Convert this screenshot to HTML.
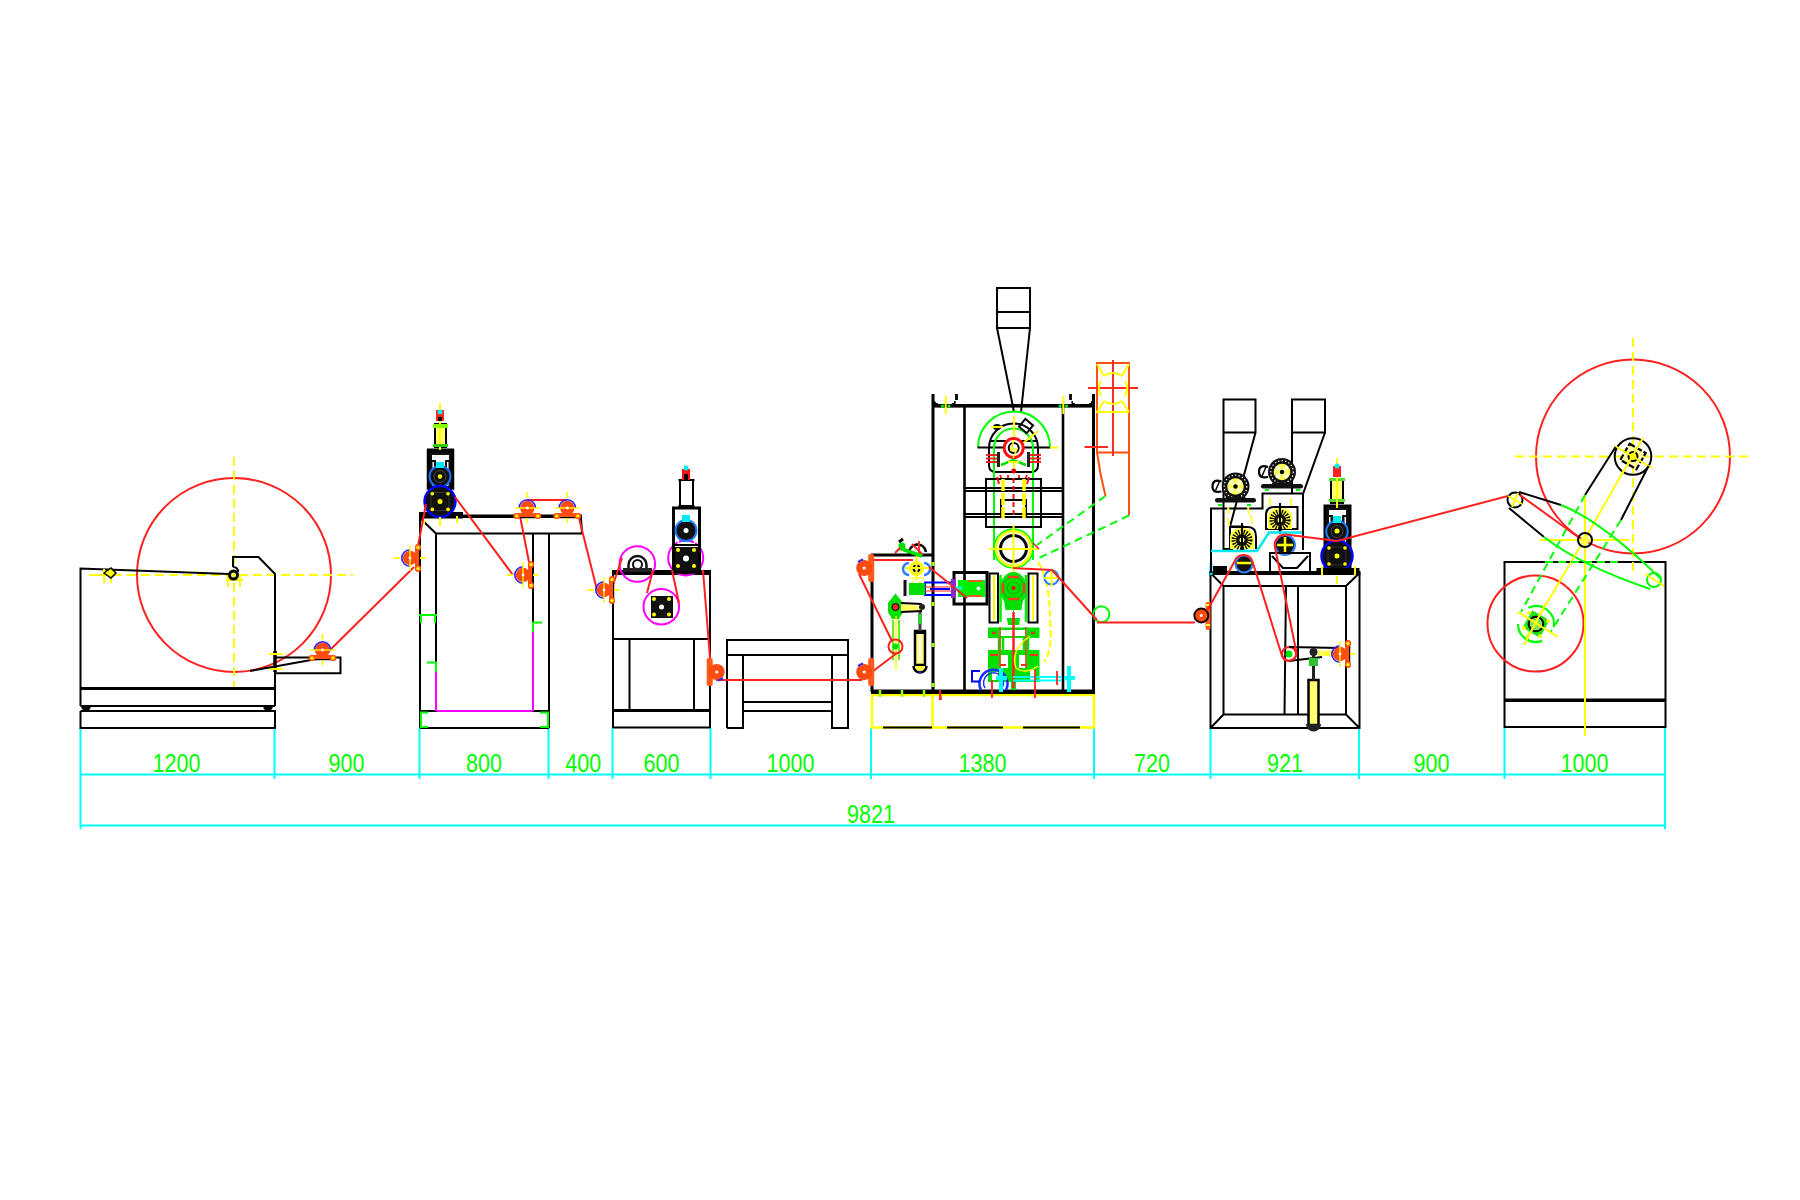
<!DOCTYPE html>
<html><head><meta charset="utf-8">
<style>
html,body{margin:0;padding:0;background:#fff;width:1800px;height:1200px;overflow:hidden}
svg{display:block}
.k{stroke:#000;fill:none;stroke-width:2}
.kt{stroke:#000;fill:none;stroke-width:3}
.r{stroke:#ff2020;fill:none;stroke-width:2}
.y{stroke:#ffff00;fill:none;stroke-width:2}
.yd{stroke:#ffff00;fill:none;stroke-width:2;stroke-dasharray:9 5}
.g{stroke:#00ff00;fill:none;stroke-width:2}
.gd{stroke:#00ff00;fill:none;stroke-width:2;stroke-dasharray:8 5}
.c{stroke:#00ffff;fill:none;stroke-width:2}
.b{stroke:#0000ff;fill:none;stroke-width:2}
.m{stroke:#ff00ff;fill:none;stroke-width:2}
.o{stroke:#ff5010;fill:none;stroke-width:2}
text{font-family:"Liberation Sans",sans-serif;fill:#00ff00;font-size:25.5px}
</style></head>
<body>
<svg width="1800" height="1200" viewBox="0 0 1800 1200">
<rect width="1800" height="1200" fill="#fff"/>
<defs>
<g id="rl">
<path d="M9 -8V8" stroke="#000" stroke-width="2.5"/>
<rect x="5" y="-14" width="6" height="7" rx="3" fill="#ff5010"/>
<rect x="5" y="7" width="6" height="7" rx="3" fill="#ff5010"/>
<rect x="5" y="-11" width="4" height="22" fill="#ff5010"/>
<circle cx="8" cy="-10.5" r="1.7" fill="#ff0"/><circle cx="8" cy="10.5" r="1.7" fill="#ff0"/>
<circle r="7.2" fill="#ff4a10"/>
<path d="M0 -8.2A8.2 8.2 0 0 0 0 8.2" stroke="#2a20ff" stroke-width="1.6" fill="none"/>
<path d="M0 -13V13" stroke="#ffff00" stroke-width="1.3"/>
<path d="M-16 0H-10 M10 0H15" stroke="#ffff00" stroke-width="1.8"/>
<circle r="1.4" fill="#fff"/>
</g>
<g id="rl2">
<rect x="4" y="-14" width="6" height="28" rx="2" fill="#ff5a18"/>
<circle r="8" fill="#ff4a10"/>
<path d="M-1 -8.5A8.5 8.5 0 0 0 -6 -6" stroke="#2030ff" stroke-width="2" fill="none"/>
<circle r="1.6" fill="#fff"/>
</g>
</defs>


<!-- ===== DIMENSIONS ===== -->
<g id="dims">
<path class="c" d="M80.5 728V829 M274.5 728V779 M419.5 728V779 M548.5 728V779 M612.5 728V779 M710.5 728V779 M871 728V779 M1094 728V779 M1210.5 728V779 M1359 728V779 M1504.5 728V779 M1665 728V829"/>
<path class="c" d="M80 774.5H1665 M80 825.5H1665"/>
<text transform="translate(176.5,772) scale(0.845,1)" text-anchor="middle">1200</text>
<text transform="translate(346.5,772) scale(0.845,1)" text-anchor="middle">900</text>
<text transform="translate(484,772) scale(0.845,1)" text-anchor="middle">800</text>
<text transform="translate(583.3,772) scale(0.845,1)" text-anchor="middle">400</text>
<text transform="translate(661.5,772) scale(0.845,1)" text-anchor="middle">600</text>
<text transform="translate(790.5,772) scale(0.845,1)" text-anchor="middle">1000</text>
<text transform="translate(982.5,772) scale(0.845,1)" text-anchor="middle">1380</text>
<text transform="translate(1152,772) scale(0.845,1)" text-anchor="middle">720</text>
<text transform="translate(1285,772) scale(0.845,1)" text-anchor="middle">921</text>
<text transform="translate(1431.5,772) scale(0.845,1)" text-anchor="middle">900</text>
<text transform="translate(1584.5,772) scale(0.845,1)" text-anchor="middle">1000</text>
<text transform="translate(871,823) scale(0.845,1)" text-anchor="middle">9821</text>
</g>

<!-- ===== SECTION 1: UNWINDER ===== -->
<g id="s1">
<circle class="r" cx="234" cy="575" r="97"/>
<path class="yd" d="M234 457V693 M99 575H353"/>
<path class="k" d="M80.5 706V568.5L229 574 M233 567V557H258.5L275 574V706 M80.5 706H275 M80.5 711V728H275V711H80.5 M275 657.5H340.5V673.3H275"/>
<path d="M275 651V672" stroke="#000" stroke-width="3.5"/>
<path class="y" d="M269 654H283 M269 669H283 M89 575H119 M104 569V583 M111 569V583 M226 580H243 M228 575V587 M240 575V587" stroke-width="1.6"/>
<path d="M104 573L111 568L116 573L111 578Z" stroke="#000" stroke-width="1.5" fill="#ff0"/>
<path d="M82 707A4 3 0 0 0 90 707 M264 707A4 3 0 0 0 272 707" stroke="#000" stroke-width="1.5" fill="#000"/>
<path class="kt" d="M80.5 688.5H275"/>
<path class="k" d="M250 671L325 657.5"/>
<circle cx="233.5" cy="575" r="4" stroke="#000" stroke-width="3" fill="none"/>
<path d="M233 567A4.5 4.5 0 0 1 238 572" stroke="#000" stroke-width="2" fill="none"/>
<circle cx="322.5" cy="650" r="7.5" fill="#ff4a10"/>
</g>

<!-- ===== SECTION 2 ===== -->
<g id="s2">
<path class="k" d="M420 514V728 M420.7 518.7L436 533.5H582 M581 518L582 534 M436 533.5V672 M533 533.5V622 M549 533.5V728 M420 711H549 M420 728H549"/>
<rect x="419" y="514.5" width="163" height="3.5" fill="#000"/>
<rect x="419" y="512" width="44" height="6.5" fill="#000"/>
<path class="m" d="M436 672V711 M533 632V711 M437 711H532"/>
<path class="g" d="M419 615H437 M421 615V623 M435 615V623 M427 662.5H436V672 M533 622.5H542 M533 622V632 M428 712.5H421V727H428 M540 712.5H548V727H540"/>
<!-- motor tower -->
<rect x="428.5" y="451" width="24" height="37" stroke="#000" stroke-width="3.5" fill="#111"/>
<rect x="427" y="448.5" width="27" height="4" fill="#000"/>
<path d="M432 455H449V460H445V468H436V460H432Z M432.5 462H434V486H432.5Z M447 462H448.5V486H447Z" fill="#fff"/>
<circle cx="440" cy="476.5" r="10.5" stroke="#1a70ff" stroke-width="2" fill="#111"/>
<circle cx="440" cy="476.5" r="6" stroke="#555" stroke-width="0.8" fill="none"/>
<circle cx="440" cy="476.5" r="2.2" fill="#ff0"/>
<rect x="436" y="462" width="8" height="6" fill="#00e8f0"/>
<circle cx="440" cy="501.5" r="15.5" stroke="#0000ff" stroke-width="2.5" fill="#111"/>
<rect x="431" y="492.5" width="18" height="18" fill="none" stroke="#333" stroke-width="1"/>
<circle cx="432.3" cy="493.7" r="1.8" fill="#ff0"/><circle cx="448" cy="493.7" r="1.8" fill="#ff0"/><circle cx="432.3" cy="509.4" r="1.8" fill="#ff0"/><circle cx="448" cy="509.4" r="1.8" fill="#ff0"/>
<circle cx="440" cy="501.5" r="2.5" fill="#ff0"/>
<rect x="435" y="424" width="11" height="23" fill="#ff6" stroke="#000" stroke-width="2"/>
<path class="y" d="M440 403V450"/>
<rect x="433" y="424" width="15" height="4" fill="#8f0"/>
<rect x="433" y="444" width="15" height="3" fill="#3c0"/>
<rect x="436" y="410" width="8" height="11" fill="#f22"/>
<rect x="438" y="417" width="4" height="4" fill="#000"/>
<circle cx="440" cy="412" r="2.5" fill="#0ee"/>
<path class="y" d="M424 520V524 M457 516V523 M440 517V526"/>
</g>

<!-- ===== SECTION 3 ===== -->
<g id="s3">
<path class="k" d="M613 573V728 M710 573V728 M613 639H710 M629.5 639V710 M694 639V710 M613 727.5H710"/>
<rect x="612" y="570" width="99" height="5" fill="#000"/>
<path class="kt" d="M613 710.5H710"/>
<circle class="m" cx="637.3" cy="564" r="17.8"/>
<circle class="m" cx="685.7" cy="558" r="17.5"/>
<circle class="m" cx="661.3" cy="606.7" r="17.8"/>
<path d="M628.5 570V565a9 9 0 0 1 18 0V570z" fill="#fff" stroke="#111" stroke-width="2.5"/>
<circle cx="637.5" cy="564.5" r="4.5" fill="#fff" stroke="#111" stroke-width="2"/>
<rect x="623" y="568" width="29" height="4" fill="#222"/>
<rect x="651" y="596" width="22" height="22" fill="#111"/>
<circle cx="661.5" cy="607" r="2.5" fill="#fff"/>
<circle cx="654" cy="599" r="2" fill="#ff0"/><circle cx="669" cy="599" r="2" fill="#ff0"/><circle cx="654" cy="614.5" r="2" fill="#ff0"/><circle cx="669" cy="614.5" r="2" fill="#ff0"/>
<!-- tower -->
<rect x="673.5" y="508" width="26" height="64" class="kt" fill="#111"/>
<path d="M677 512H696V517H692V524H681V517H677Z M677.5 519H679V543H677.5Z M694 519H695.5V543H694Z M678 543H695V546H678Z" fill="#fff"/>
<path class="k" d="M673.5 545H699.5"/>
<circle cx="686" cy="530.5" r="10.5" stroke="#1a7aff" stroke-width="2" fill="#111"/>
<circle cx="686" cy="530.5" r="2.5" fill="#fff"/>
<rect x="682" y="515" width="8" height="7" fill="#00e8f0"/>
<rect x="675" y="547" width="23" height="24" fill="#111"/>
<circle cx="686" cy="558.5" r="3" fill="#fff"/>
<circle cx="678" cy="550" r="2" fill="#ff0"/><circle cx="694" cy="550" r="2" fill="#ff0"/><circle cx="678" cy="566" r="2" fill="#ff0"/><circle cx="694" cy="566" r="2" fill="#ff0"/>
<rect x="680" y="480" width="13" height="27" fill="#fff" stroke="#000" stroke-width="2"/>
<path class="k" d="M678.5 480H694.5 M678.5 506H694.5"/>
<rect x="682" y="469" width="8" height="11" fill="#f11"/>
<rect x="684" y="474" width="4" height="6" fill="#000"/>
<circle cx="686" cy="468" r="2.5" fill="#0ee"/>
</g>

<!-- ===== TABLE ===== -->
<g id="table">
<path class="k" d="M727 728V640H848V728H832V655H743V728H727 M727 655H848 M743 702H832 M743 711H832"/>
</g>

<!-- ===== SECTION 4: CENTRAL ===== -->
<g id="s4">
<!-- base -->
<rect x="872" y="695" width="222" height="32.5" fill="none" stroke="#ffff00" stroke-width="2.5"/>
<path d="M932.5 695V727.5" stroke="#ffff00" stroke-width="2.5"/>
<path class="k" d="M883 727.5H932 M947 727.5H1003 M1023 727.5H1080"/>
<rect x="871" y="689.5" width="224" height="4.5" fill="#000"/>
<!-- frame -->
<path d="M933 394V692 M1093.5 394V692" stroke="#000" stroke-width="3"/>
<path d="M964.5 406V692 M1063 406V692" stroke="#000" stroke-width="2.6"/>
<rect x="932" y="404" width="163" height="3.6" fill="#000"/>
<path d="M956.5 394V400" stroke="#000" stroke-width="2.8"/>
<path d="M1070.5 394V400" stroke="#000" stroke-width="2.8"/>
<path d="M934.5 401Q935 404 938 404H934.5Z M955 401Q955 404 952 404H955Z M1072 401Q1072 404 1075 404H1072Z M1092 401Q1092 404 1089 404H1092Z" stroke="#000" stroke-width="1" fill="#000"/>
<circle cx="942.5" cy="406" r="1.5" fill="#0f0"/><circle cx="949" cy="406" r="1.5" fill="#0f0"/><circle cx="1060" cy="406" r="1.5" fill="#0f0"/><circle cx="1066.5" cy="406" r="1.5" fill="#0f0"/>
<path class="y" d="M945.7 396V414 M1063.3 396V414"/>
<!-- hopper -->
<path class="k" d="M997 288H1030V328H997Z M997 312H1030 M997 328L1014 412 M1030 328L1021 412"/>
<!-- green hood -->
<path class="g" d="M978 447.5A36 36 0 0 1 1050 447.5"/>
<path class="k" d="M977.5 447.5H1050.5"/>
<path class="k" d="M989 448A24.5 24.5 0 0 1 1038 448V465Q1038 472 1031 472H996Q989 472 989 465Z M990 441H1038" stroke-width="2.5"/>
<path class="g" d="M994 560V448A19.5 19.5 0 0 1 1033 448V560"/>
<rect x="1021" y="421" width="10" height="10" transform="rotate(40 1026 426)" class="k"/>
<ellipse cx="997" cy="427" rx="4" ry="3" fill="#000"/>
<path class="y" d="M991 427H1003 M1014 416V470 M1038 431L1022 444 M1050 447.5H1058"/>
<circle cx="1013.7" cy="448" r="9.5" stroke="#f11" stroke-width="3" fill="#fff"/>
<circle cx="1013.7" cy="448" r="5" stroke="#000" stroke-width="2" fill="#fff"/>
<path d="M1014 440L1011 450L1017 449L1013 458" stroke="#ff0" stroke-width="1.5" fill="none"/>
<path d="M986 455H999 M986 458.5H999 M986 462H999 M1028.5 455H1041 M1028.5 458.5H1041 M1028.5 462H1041" stroke="#f22" stroke-width="1.8"/>
<path d="M998.5 452V467 M1028.5 452V467" stroke="#222" stroke-width="3"/>
<path d="M1001 465L1013 460L1026 465" stroke="#00e000" stroke-width="2.5" fill="none"/>
<path d="M1008 462H1019" stroke="#ff0" stroke-width="2"/>
<circle cx="1013.7" cy="471" r="2.5" fill="#d00"/>
<path d="M1000 475L1003 482 M1027 475L1024 482 M1008 475V480 M1019 475V480" stroke="#f11" stroke-width="1.8"/>
<!-- middle box -->
<path class="k" d="M986 479H1041V527H986Z M965 488H1063 M965 491H1063 M965 514H1063 M965 517H1063"/>
<path class="k" d="M1001 517V500H1026V517"/>
<path d="M1003 479V518 M1024 479V518" stroke="#ffff00" stroke-width="3.5" stroke-dasharray="12 2"/>
<path d="M1013.5 478V518" stroke="#e11" stroke-width="2" stroke-dasharray="5 3"/>
<path d="M997 477L999 484 M1029 477L1027 484" stroke="#f11" stroke-width="2"/>
<!-- roller -->
<circle cx="1013.5" cy="548.5" r="17.5" stroke="#ffff00" stroke-width="2.5" fill="none"/>
<circle cx="1013.5" cy="548.5" r="19.5" stroke="#00ff00" stroke-width="1.5" fill="none"/>
<circle cx="1013.5" cy="548.5" r="13" class="kt"/>
<path class="y" d="M1013.5 525V572 M989 549H1038"/>
<!-- orange bracket right -->
<path class="o" d="M1097 363H1129V452.5H1097Z"/>
<path d="M1113 360V456 M1088 388H1138 M1084.5 447H1108" stroke="#ff2a20" stroke-width="2"/>
<path d="M1097 364L1104 376 M1129 364L1122 376 M1097 412L1104 401 M1129 412L1122 401 M1096 412H1129 M1104 376A15 15 0 0 1 1122 376 M1104 401A15 15 0 0 0 1122 401 M1101 381A15 15 0 0 0 1101 396 M1125 381A15 15 0 0 1 1125 396" stroke="#ffff00" stroke-width="2" fill="none"/>
<path class="o" d="M1097 452Q1100 475 1105.5 496 M1129 452V515.5"/>
<path class="gd" d="M1105.5 496L1037 545 M1129 515.5L1039 558"/>
<path d="M1033 543L1039 549" stroke="#f22" stroke-width="1.5"/>
<!-- lower drive -->
<rect x="954" y="572.5" width="33" height="31.5" class="kt"/>
<path d="M958 580H985V597H958Z" fill="#00ee00"/>
<path d="M968 581H982 M968 596H982" stroke="#e06020" stroke-width="2"/>
<circle cx="978.5" cy="588.5" r="2" fill="#fff"/>
<path class="b" d="M925 582.5H955V595H925Z M930 589H950" stroke-width="2.5"/>
<path d="M925 587H955 M925 591H955" stroke="#f22" stroke-width="1.2"/>
<rect x="951" y="579" width="5" height="19" fill="#8030c0"/>
<path d="M955 588H962" stroke="#00ffff" stroke-width="3"/>
<rect x="989.5" y="573.5" width="8.5" height="49" class="k"/>
<rect x="1028.5" y="573.5" width="9" height="49" class="k"/>
<path class="y" d="M994 575V620 M1033 575V620"/>
<path d="M1000.5 575V622 M1026 575V622" stroke="#00ee00" stroke-width="2.5"/>
<ellipse cx="1013.5" cy="589" rx="13.5" ry="17" fill="#00e000"/>
<path d="M1004 600L1008 625H1019L1023 600Z" fill="#00e000"/>
<circle cx="1013.5" cy="588" r="11" stroke="#00aa00" stroke-width="1" fill="none"/>
<circle cx="1013.5" cy="588" r="6" stroke="#00aa00" stroke-width="1" fill="none"/>
<path d="M1003 583V593 M1024 583V593 M1008 577H1019 M1008 599H1019" stroke="#f04020" stroke-width="2.5"/>
<circle cx="1013.5" cy="588" r="2" fill="#f00"/>
<path d="M1006 610H1013V618H1006Z M1014 610H1021V618H1014Z" fill="#fff"/>
<path d="M988 627.5H1039.5V638H988Z" fill="#00e000"/>
<path d="M999 630H1027V636H999Z" fill="#fff"/>
<path d="M999 638V650 M1003 638V650 M1024 638V650 M1028 638V650" stroke="#00e000" stroke-width="2.5"/>
<path d="M988 650H1039.5V682H1016V690H1011V682H988Z" fill="#00e000"/>
<path d="M1000 655H1008V668H1000Z M1019 655H1027V668H1019Z M992 672H998V680H992Z M1030 670H1036V680H1030Z" fill="#fff"/>
<path d="M992 633H996 M1031 633H1035" stroke="#d04020" stroke-width="2.5"/>
<path d="M1000 627V668 M1026 627V668" stroke="#c06020" stroke-width="1.8"/>
<path d="M990 655H998 M1030 655H1038 M1000 665H1006 M1021 665H1027" stroke="#f03020" stroke-width="2"/>
<path d="M1013.5 612V688" stroke="#f22" stroke-width="2.5"/>
<path d="M1038 562Q1050 580 1050 620Q1053 650 1044 662" stroke="#ffff00" stroke-width="2.2" stroke-dasharray="7 3" fill="none"/>
<path d="M1030 636Q1010 650 1016 668Q1025 675 1038 666" stroke="#ffff00" stroke-width="1.5" fill="none"/>
<path d="M981 690A14 14 0 1 1 1006 690" stroke="#1530ff" stroke-width="2.5" fill="none"/>
<path d="M985 688A10 10 0 1 1 1002 688" stroke="#1530ff" stroke-width="1.5" fill="none"/>
<path class="b" d="M980 671H972V681.5H980" stroke-width="2.2"/>
<path d="M1013 677H1062 M1013 680.5H1062" stroke="#00ffff" stroke-width="2"/>
<path d="M996 678H1007 M1001 668V692 M1064 678H1075 M1069 666V692" stroke="#00ffff" stroke-width="4"/>
<path d="M992 680V698 M1035 670V698 M940 690V700 M1057 671V685" stroke="#f22" stroke-width="1.8"/>
<circle cx="1051.5" cy="577.5" r="7" stroke="#2080ff" stroke-width="2" fill="none"/>
<path class="y" d="M1044 578H1059 M1051.5 570V586"/>
<circle cx="1101.3" cy="614.2" r="8" class="g"/>
<!-- left subframe -->
<path d="M872 555V692" stroke="#000" stroke-width="3"/>
<path d="M871 555H933" stroke="#000" stroke-width="3"/>
<path d="M909 554A8.5 8.5 0 1 1 926 552" stroke="#000" stroke-width="2.5" fill="none"/>
<path d="M912 544L923 555 M919 541V555" stroke="#f22" stroke-width="1.8"/>
<path d="M899 548L922 556" stroke="#00e000" stroke-width="3.5"/>
<circle cx="902" cy="546" r="3.5" fill="#00e000"/>
<path d="M899 542L903 539" stroke="#000" stroke-width="3"/>
<path d="M895 553L900 548" stroke="#e22" stroke-width="2"/>
<path d="M909 563A6 6 0 0 0 909 575 M924 563A6 6 0 0 1 924 575" stroke="#3080ff" stroke-width="2.5" fill="none"/>
<circle cx="916.5" cy="568.5" r="6" stroke="#ffff00" stroke-width="3" fill="#fff"/>
<circle cx="916.5" cy="568.5" r="3" stroke="#000" stroke-width="2" fill="none"/>
<path class="y" d="M905 568H929 M916.5 556V580" stroke-width="1.6"/>
<path d="M910 578H924 M913 580V585 M920 580V585" stroke="#ffff40" stroke-width="1.5"/>
<path d="M909 583H925V595H909Z" fill="#00e000"/>
<path d="M905 580V596" stroke="#111" stroke-width="3"/>
<path d="M895.5 593.5L903 603V612L899 619H892L888 612V603Z" fill="#00e000"/>
<circle cx="895.5" cy="607" r="3.5" fill="#e22" stroke="#000" stroke-width="1"/>
<path d="M901 604L922 606V610L901 611Z" fill="#ffff60"/>
<path class="k" d="M901 603L922 604 M901 612L922 611"/>
<circle cx="922" cy="607" r="3" fill="#222"/>
<path d="M893 620V660 M899 620V660" stroke="#60ee20" stroke-width="2"/>
<path d="M896 616V670" stroke="#ffff00" stroke-width="1.5"/>
<circle cx="895.5" cy="646.5" r="7" class="r"/>
<circle cx="895.5" cy="646.5" r="3" fill="#00e000"/>
<rect x="915" y="631" width="10" height="34" fill="#ffff80" stroke="#000" stroke-width="2.5"/>
<path d="M920 634V662" stroke="#fff" stroke-width="2"/>
<path d="M914 633H926" stroke="#000" stroke-width="2"/>
<path d="M920 612V631" stroke="#444" stroke-width="3"/>
<path d="M920 614V624" stroke="#3c3" stroke-width="4"/>
<path d="M913.5 666A6.5 6.5 0 1 0 926.5 666" fill="#ffff40" stroke="#000" stroke-width="2.5"/>
<circle cx="920" cy="672" r="1.5" fill="#22d"/>
<path d="M933 562V566 M933 602V606 M933 643V647 M933 683V687" stroke="#9f0" stroke-width="3"/>
<path d="M880 690V697 M902 690V697 M924 690V697" stroke="#9f0" stroke-width="2.5"/>
<path class="r" d="M868 675L897 653 M892 641L859 574 M872 560H913 M929 567L967 598 M1013 568L1052 570L1097 620 M1097 622.5H1195 M940 692L941 700"/>
</g>

<!-- ===== SECTION 5 ===== -->
<g id="s5">
<path class="k" d="M1210.5 573V728H1359.5V573 M1223.5 586H1346V714.5H1223.5Z M1210.5 573L1223.5 586 M1359.5 573L1346 586 M1210.5 728L1223.5 714.5 M1359.5 728L1346 714.5 M1286 586L1284.5 714.5 M1298 586V714.5"/>
<rect x="1209" y="571" width="151.5" height="4" fill="#000"/>
<rect x="1213" y="566" width="14" height="5" fill="#000"/>
<path d="M1211 563V575" stroke="#00e8f0" stroke-width="3"/>
<!-- hoppers -->
<path class="k" d="M1223.5 399.5H1255.5V432.5H1223.5Z M1223.5 432.5V549H1233 M1255.5 432.5L1230 526.5H1244 M1292 399.5H1325V432.5H1292Z M1292 432.5V493 M1325 432.5L1303 494V550"/>
<path class="k" d="M1211 573V508.5H1262.5V493.5H1302" stroke-width="2.5"/>
<!-- brush housings -->
<path class="k" d="M1230 549V527H1248Q1256 527 1256 537V549" stroke-width="2.5"/>
<path class="k" d="M1266 529V515Q1266 507 1274 507H1297.5V529Z" stroke-width="2.5"/>
<path d="M1230 549V538Q1230 528 1242 528Q1254 528 1254 538V549Z" fill="#ffff40"/>
<circle cx="1242" cy="540" r="8" stroke="#000" stroke-width="5" stroke-dasharray="1.3 1.3" fill="none"/>
<circle cx="1242" cy="540" r="6" fill="#111"/>
<circle cx="1242" cy="540" r="2.5" fill="#ffff60"/>
<path class="k" d="M1242 523V552"/>
<path d="M1268 529V518Q1268 508 1280 508Q1292 508 1292 518V529Z" fill="#ffff40"/>
<circle cx="1280" cy="520" r="8" stroke="#000" stroke-width="5" stroke-dasharray="1.3 1.3" fill="none"/>
<circle cx="1280" cy="520" r="6" fill="#111"/>
<circle cx="1280" cy="520" r="2.5" fill="#ffff60"/>
<path class="k" d="M1280 503V534"/>
<!-- motors -->
<circle cx="1235.5" cy="486.5" r="14" fill="#111"/>
<circle cx="1235.5" cy="486.5" r="11.3" stroke="#fff" stroke-width="1.2" stroke-dasharray="1.3 2.2" fill="none"/>
<circle cx="1235.5" cy="486.5" r="8.3" fill="#ffff50"/>
<path d="M1229.5 480.5h4.5v4.5h-4.5z M1237.0 480.5h4.5v4.5h-4.5z M1229.5 488.0h4.5v4.5h-4.5z M1237.0 488.0h4.5v4.5h-4.5z" fill="#ffffd0"/>
<circle cx="1235.5" cy="486.5" r="2.2" fill="#000"/>
<path d="M1221.5 481.5Q1212.5 478.5 1212.5 486.5Q1212.5 493.5 1221.5 491.5" stroke="#000" stroke-width="2.2" fill="#fff"/>
<path d="M1215.5 490.5L1219.5 481.5" stroke="#000" stroke-width="1.5"/>
<rect x="1215" y="498" width="41" height="4.5" rx="2.2" fill="#111"/>
<path d="M1225.5 498.5H1245.5" stroke="#111" stroke-width="3"/>
<circle cx="1282" cy="472" r="14" fill="#111"/>
<circle cx="1282" cy="472" r="11.3" stroke="#fff" stroke-width="1.2" stroke-dasharray="1.3 2.2" fill="none"/>
<circle cx="1282" cy="472" r="8.3" fill="#ffff50"/>
<path d="M1276 466h4.5v4.5h-4.5z M1283.5 466h4.5v4.5h-4.5z M1276 473.5h4.5v4.5h-4.5z M1283.5 473.5h4.5v4.5h-4.5z" fill="#ffffd0"/>
<circle cx="1282" cy="472" r="2.2" fill="#000"/>
<path d="M1268 467Q1259 464 1259 472Q1259 479 1268 477" stroke="#000" stroke-width="2.2" fill="#fff"/>
<path d="M1262 476L1266 467" stroke="#000" stroke-width="1.5"/>
<rect x="1261" y="484" width="42" height="4.5" rx="2.2" fill="#111"/>
<path d="M1272 484H1292" stroke="#111" stroke-width="3"/>
<path class="g" d="M1218 505H1222 M1247 505H1251 M1265 490H1269 M1296 490H1300"/>
<path d="M1228 507L1229 514 M1248 507L1249 514 M1270 498V506 M1291 498V506 M1228 518L1229 526 M1251 515L1252 524" stroke="#ffff40" stroke-width="2"/>
<!-- lower rollers -->
<circle cx="1244" cy="564" r="8.5" stroke="#3080ff" stroke-width="2" fill="#111"/>
<path d="M1237 563H1251" stroke="#ffff00" stroke-width="2.5"/>
<circle cx="1285" cy="545" r="10" stroke="#3080ff" stroke-width="2" fill="#111"/>
<path d="M1277 545H1293 M1285 537V553" stroke="#ffff00" stroke-width="2.5"/>
<path class="k" d="M1270 573V553H1310V573 M1272 556L1283 568H1297L1308 556"/>
<path d="M1211 551H1257L1269 532.5H1302" stroke="#00e8f0" stroke-width="2.5" fill="none"/>
<!-- right tower -->
<rect x="1325" y="506" width="25" height="62" stroke="#000" stroke-width="3" fill="#111"/>
<path d="M1329 510H1346V515H1342V522H1333V515H1329Z M1329 517H1330.5V542H1329Z M1344.5 517H1346V542H1344.5Z" fill="#fff"/>
<circle cx="1337" cy="531.5" r="10.8" stroke="#1a7aff" stroke-width="2" fill="#111"/>
<circle cx="1337" cy="531.5" r="6" stroke="#555" stroke-width="0.8" fill="none"/>
<circle cx="1337" cy="531" r="2.5" fill="#ff0"/>
<rect x="1333" y="516" width="8" height="7" fill="#00e8f0"/>
<circle cx="1337" cy="556" r="15.5" stroke="#0000ff" stroke-width="2.5" fill="#111"/>
<rect x="1328" y="547" width="18" height="18" fill="none" stroke="#333" stroke-width="1"/>
<circle cx="1329" cy="548" r="1.8" fill="#ff0"/><circle cx="1345" cy="548" r="1.8" fill="#ff0"/><circle cx="1329" cy="564" r="1.8" fill="#ff0"/><circle cx="1345" cy="564" r="1.8" fill="#ff0"/>
<circle cx="1337" cy="556" r="2.5" fill="#ff0"/>
<rect x="1331" y="479" width="12" height="24" fill="#ffff70" stroke="#000" stroke-width="2"/>
<rect x="1329" y="478" width="16" height="3" fill="#5d3"/>
<rect x="1329" y="499" width="16" height="3" fill="#5d3"/>
<path class="y" d="M1337 458V508"/>
<rect x="1333" y="466" width="8" height="11" fill="#f22"/>
<circle cx="1337" cy="466" r="2.5" fill="#0ee"/>
<rect x="1316.5" y="568" width="43" height="5" fill="#000"/>
<path class="y" d="M1322 566V575 M1355 566V575 M1337 576V584"/>
<!-- arm and cylinder -->
<circle cx="1289" cy="654" r="7" class="r"/>
<circle cx="1289" cy="654" r="3.5" fill="#00dd00"/>
<path class="k" d="M1289 647L1340 648 M1289 661L1322 657"/>
<path d="M1318 650L1340 651V656L1318 656Z" fill="#ffff60"/>
<rect x="1308.5" y="680" width="10" height="45" fill="#ffff70" stroke="#000" stroke-width="2.5"/>
<path d="M1313.5 650V680" stroke="#222" stroke-width="3"/>
<rect x="1309" y="658" width="9" height="8" fill="#30c030"/>
<circle cx="1313.5" cy="652" r="4" fill="#222"/>
<path d="M1306 724A7.5 7.5 0 0 0 1321 724" fill="#222"/>
<use href="#rl" transform="translate(1340,654)"/>
<rect x="1205.5" y="602" width="5" height="28" rx="2" fill="#ff5a18"/>
<path d="M1206 605H1210 M1206 625H1210" stroke="#ffff30" stroke-width="2"/>
<circle cx="1201.3" cy="615.5" r="7" fill="#ff4a10" stroke="#000" stroke-width="1.8"/>
<circle cx="1201.3" cy="615.5" r="1.5" fill="#fff"/>
<path class="r" d="M1207 611L1234.5 561.5A9.5 9.5 0 0 1 1252.5 561.5L1282 656A7 7 0 0 0 1296 650L1274.8 546.5A10.5 10.5 0 0 1 1286 534.5L1337 541L1508 496" stroke-width="2.2"/>
</g>

<!-- ===== SECTION 6: WINDER ===== -->
<g id="s6">
<path class="k" d="M1504.5 562H1665.5V727H1504.5Z M1504.5 701H1665.5"/>
<path class="kt" d="M1504.5 700H1665.5"/>
<circle class="r" cx="1633" cy="456.5" r="97"/>
<path class="yd" d="M1633 338V573 M1515 456.5H1752"/>
<circle class="r" cx="1535.5" cy="623.5" r="48"/>
<path class="y" d="M1585 497V736 M1540 540H1629" stroke-width="1.8"/>
<!-- main arm black -->
<circle cx="1633" cy="456.5" r="18.3" class="k"/>
<rect x="1623.7" y="447.2" width="18.6" height="18.6" transform="rotate(30 1633 456.5)" stroke="#000" stroke-width="2.2" fill="#ffffa0" stroke-dasharray="6 2"/>
<circle cx="1633" cy="456.5" r="4.5" stroke="#000" stroke-width="2" fill="#ff0"/>
<path class="y" d="M1615 446L1652 468 M1643 438L1622 474" stroke-width="1.6"/>
<path class="k" d="M1615.5 447L1585 495 M1648.5 466L1621 520"/>
<path class="y" d="M1624 470L1590 530"/>
<!-- small idler -->
<circle cx="1515" cy="500" r="7.5" class="k"/>
<path class="y" d="M1508 496L1522 504 M1518 493L1512 507" stroke-width="1.5"/>
<path class="k" d="M1519 492L1561 505 M1509 508L1544 537"/>
<!-- green arms -->
<path class="g" d="M1561 505Q1600 520 1660 578"/>
<path class="g" d="M1544 537Q1580 565 1650 589"/>
<path class="gd" d="M1585 495L1521 612 M1621 520L1550 633"/>
<path class="y" d="M1590 530L1525 640" stroke-width="1.6"/>
<circle cx="1654" cy="580" r="7" class="g"/>
<path class="y" d="M1645 574L1664 586" stroke-width="1.5"/>
<path class="gd" d="M1545 562H1620"/>
<!-- hub bottom -->
<path d="M1528.4 607.7A18 18 0 0 1 1553.7 627.1 M1518 624A18 18 0 0 0 1542.2 640.9" stroke="#00ff00" stroke-width="2.2" fill="none"/>
<rect x="1526" y="614" width="20" height="20" transform="rotate(30 1536 624)" fill="#20e020"/>
<circle cx="1529" cy="613" r="2" fill="#ff0"/><circle cx="1548" cy="621" r="2" fill="#ff0"/><circle cx="1540" cy="636" r="2" fill="#ff0"/><circle cx="1524" cy="628" r="2" fill="#ff0"/>
<circle cx="1536" cy="624" r="7.3" stroke="#000" stroke-width="2" fill="#7fe060"/>
<path class="y" d="M1518 612L1558 637 M1524 645L1546 603" stroke-width="1.6"/>
<!-- small black idler on arm -->
<circle cx="1585" cy="540" r="7" class="k"/>
<circle cx="1585" cy="540" r="4" fill="#ffff40"/>
<path class="r" d="M1520 495L1578 537"/>
</g>

<!-- ===== WEB path s1-s3 ===== -->
<g id="web1">
<path class="r" d="M325 655L414 567 M417 551L426 504 M455 497L513 575 M529 562L520 516 M527 500H567 M579 518L597 590 M611 591L622 558 M653 570L647 593 M679 603L672 570 M703 570L710 658 M716 680H862"/>
<use href="#rl" transform="translate(322.5,650) rotate(90)"/>
<use href="#rl" transform="translate(410,558)"/>
<use href="#rl" transform="translate(527.3,508) rotate(90)"/>
<use href="#rl" transform="translate(567.3,508) rotate(90)"/>
<use href="#rl" transform="translate(523,575)"/>
<use href="#rl" transform="translate(604,590)"/>
<use href="#rl2" transform="translate(716.7,672) rotate(180)"/>
<use href="#rl2" transform="translate(864.2,672)"/>
<use href="#rl2" transform="translate(864.2,568)"/>
</g>

</svg>
</body></html>
